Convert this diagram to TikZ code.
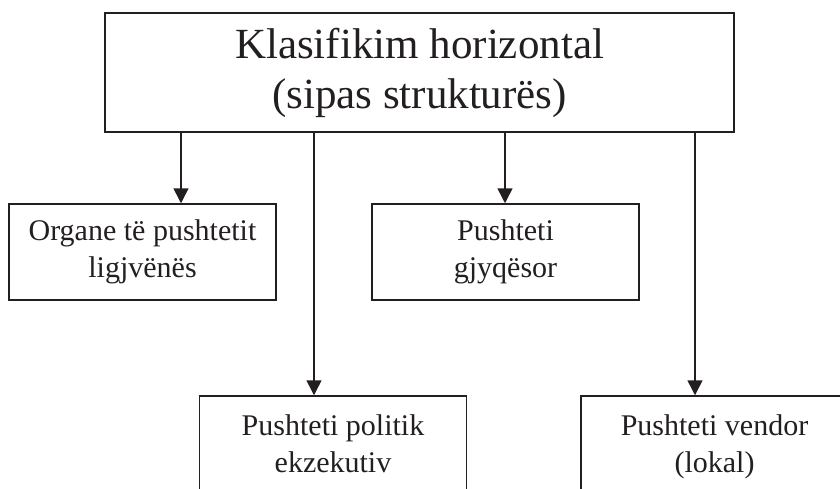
\documentclass[tikz,border=0pt]{standalone}
\usepackage{fontspec}
\setmainfont{Liberation Serif}
\usetikzlibrary{arrows.meta}
\definecolor{ink}{HTML}{231F20}
\begin{document}
\begin{tikzpicture}[x=1pt,y=-1pt,
  box/.style={draw=ink, line width=1.5pt, minimum width=267pt, minimum height=96pt,
    inner sep=0pt, align=center, text=ink, font=\fontsize{30}{37}\selectfont},
  link/.style={draw=ink, line width=1.5pt, -{Triangle[width=15pt,length=15pt]}}]
\useasboundingbox (0,0) rectangle (840,488);
\clip (0,0) rectangle (840,488);
% title box
\node[box, minimum width=629pt, minimum height=119pt,
  font=\fontsize{43}{50}\selectfont] (top) at (419.5,72.5)
  {Klasifikim horizontal\\(sipas strukturës)};
% branches
\node[box] (leg) at (142.5,252) {Organe të pushtetit\\ligjvënës};
\node[box] (jud) at (505.5,252) {Pushteti\\gjyqësor};
\node[box] (exe) at (333,444) {Pushteti politik\\ekzekutiv};
\node[box, text depth=0pt] (loc) at (714.5,444) {Pushteti vendor\\(lokal)};
% start points of the connectors on the bottom edge of the title box
\coordinate (s1) at ([xshift=-238.5pt]top.south);
\coordinate (s2) at ([xshift=-105.5pt]top.south);
\coordinate (s3) at ([xshift=85.5pt]top.south);
\coordinate (s4) at ([xshift=275.5pt]top.south);
\draw[link] (s1) -- (s1 |- leg.north);
\draw[link] (s2) -- (s2 |- exe.north);
\draw[link] (s3) -- (s3 |- jud.north);
\draw[link] (s4) -- (s4 |- loc.north);
\end{tikzpicture}
\end{document}
